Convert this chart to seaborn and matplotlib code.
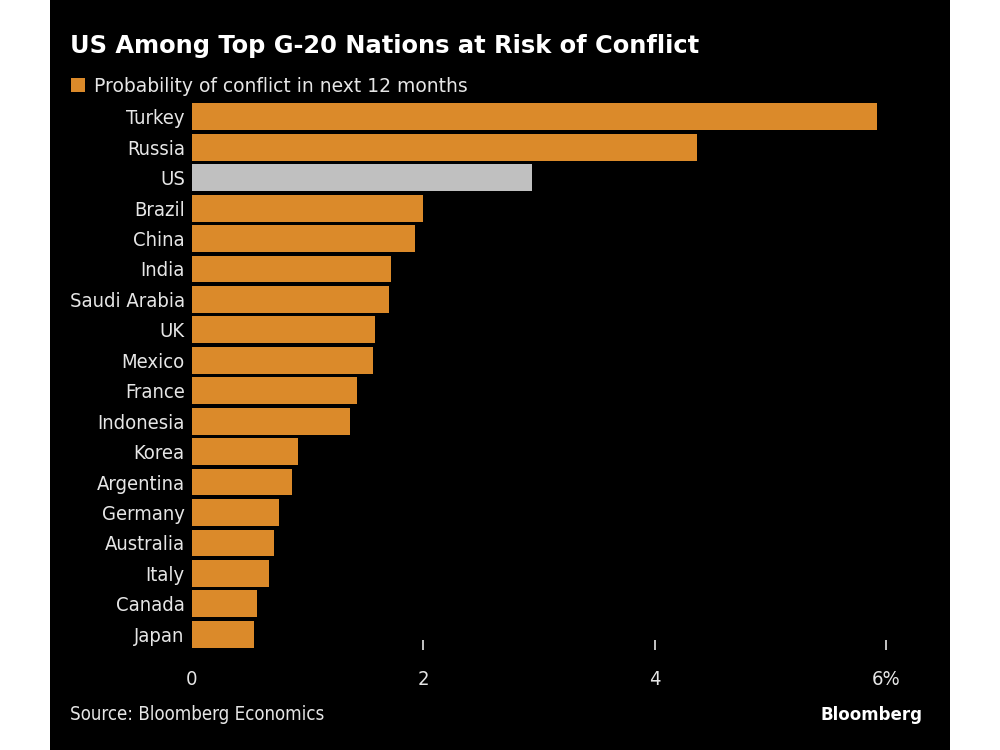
import matplotlib
matplotlib.use("Agg")
import matplotlib.pyplot as plt
from matplotlib.patches import Rectangle, Patch
import seaborn as sns
import pandas as pd

# ---- data ----
countries = ["Turkey", "Russia", "US", "Brazil", "China", "India", "Saudi Arabia",
             "UK", "Mexico", "France", "Indonesia", "Korea", "Argentina", "Germany",
             "Australia", "Italy", "Canada", "Japan"]
probability = [5.92, 4.36, 2.94, 2.00, 1.93, 1.72, 1.70, 1.58, 1.57, 1.43, 1.37,
               0.92, 0.87, 0.75, 0.71, 0.67, 0.56, 0.54]
highlight = ["US"]
x_ticks = [0, 2, 4, 6]
x_tick_labels = ["0", "2", "4", "6%"]
title = "US Among Top G-20 Nations at Risk of Conflict"
legend_label = "Probability of conflict in next 12 months"
source = "Source: Bloomberg Economics"

ORANGE = "#db8a2a"
GRAY = "#c0c0c0"
TXT = "#e6e6e6"

df = pd.DataFrame({"country": countries, "value": probability})
palette = {c: (GRAY if c in highlight else ORANGE) for c in countries}

sns.set_theme(style="white")
plt.rcParams["font.family"] = ["DejaVu Sans"]

fig = plt.figure(figsize=(10, 7.5), dpi=100, facecolor="white")
fig.patches.append(Rectangle((0.05, 0), 0.90, 1, transform=fig.transFigure,
                             facecolor="black", edgecolor="none", zorder=-10))

ax = fig.add_axes([0.1917, 0.1332, 0.7295, 0.7334])
ax.set_facecolor("black")
sns.barplot(data=df, x="value", y="country", hue="country", palette=palette,
            order=countries, width=0.88, legend=False, ax=ax, saturation=1,
            edgecolor="none")
ax.set_xlim(0, 6.3)
ax.set_ylim(17.52, -0.55)
for s in ax.spines.values():
    s.set_visible(False)
ax.set_xlabel("")
ax.set_ylabel("")
ax.set_xticks(x_ticks)
ax.set_xticklabels(x_tick_labels)
ax.tick_params(axis="x", direction="in", length=7.5, width=1.2, color=TXT,
               pad=14, labelcolor=TXT, labelsize=14.5, bottom=True)
ax.xaxis.get_major_ticks()[0].tick1line.set_visible(False)
ax.tick_params(axis="y", length=0, pad=5, labelcolor=TXT, labelsize=14.5)
for lab in ax.get_xticklabels() + ax.get_yticklabels():
    lab.set_family(["DejaVu Sans"])
    lab.set_stretch("condensed")

fig.text(0.07, 0.93, title, color="white", fontsize=17.4, fontweight="bold",
         family=["DejaVu Sans"], ha="left", va="baseline")

leg = fig.legend(handles=[Patch(facecolor=ORANGE, edgecolor="none", label=legend_label)],
                 loc="upper left", bbox_to_anchor=(0.071, 0.898), frameon=False,
                 handlelength=0.75, handleheight=0.75, handletextpad=0.45,
                 borderpad=0, borderaxespad=0, fontsize=13.5, labelcolor=TXT)
for t in leg.get_texts():
    t.set_family(["DejaVu Sans"])

fig.text(0.07, 0.04, source, color=TXT, fontsize=13.4, family=["DejaVu Sans"],
         stretch="condensed", ha="left", va="baseline")
fig.text(0.922, 0.04, "Bloomberg", color="white", fontsize=12, fontweight="bold",
         family=["DejaVu Sans"], ha="right", va="baseline")

fig.savefig("out.png", dpi=100, facecolor=fig.get_facecolor())
